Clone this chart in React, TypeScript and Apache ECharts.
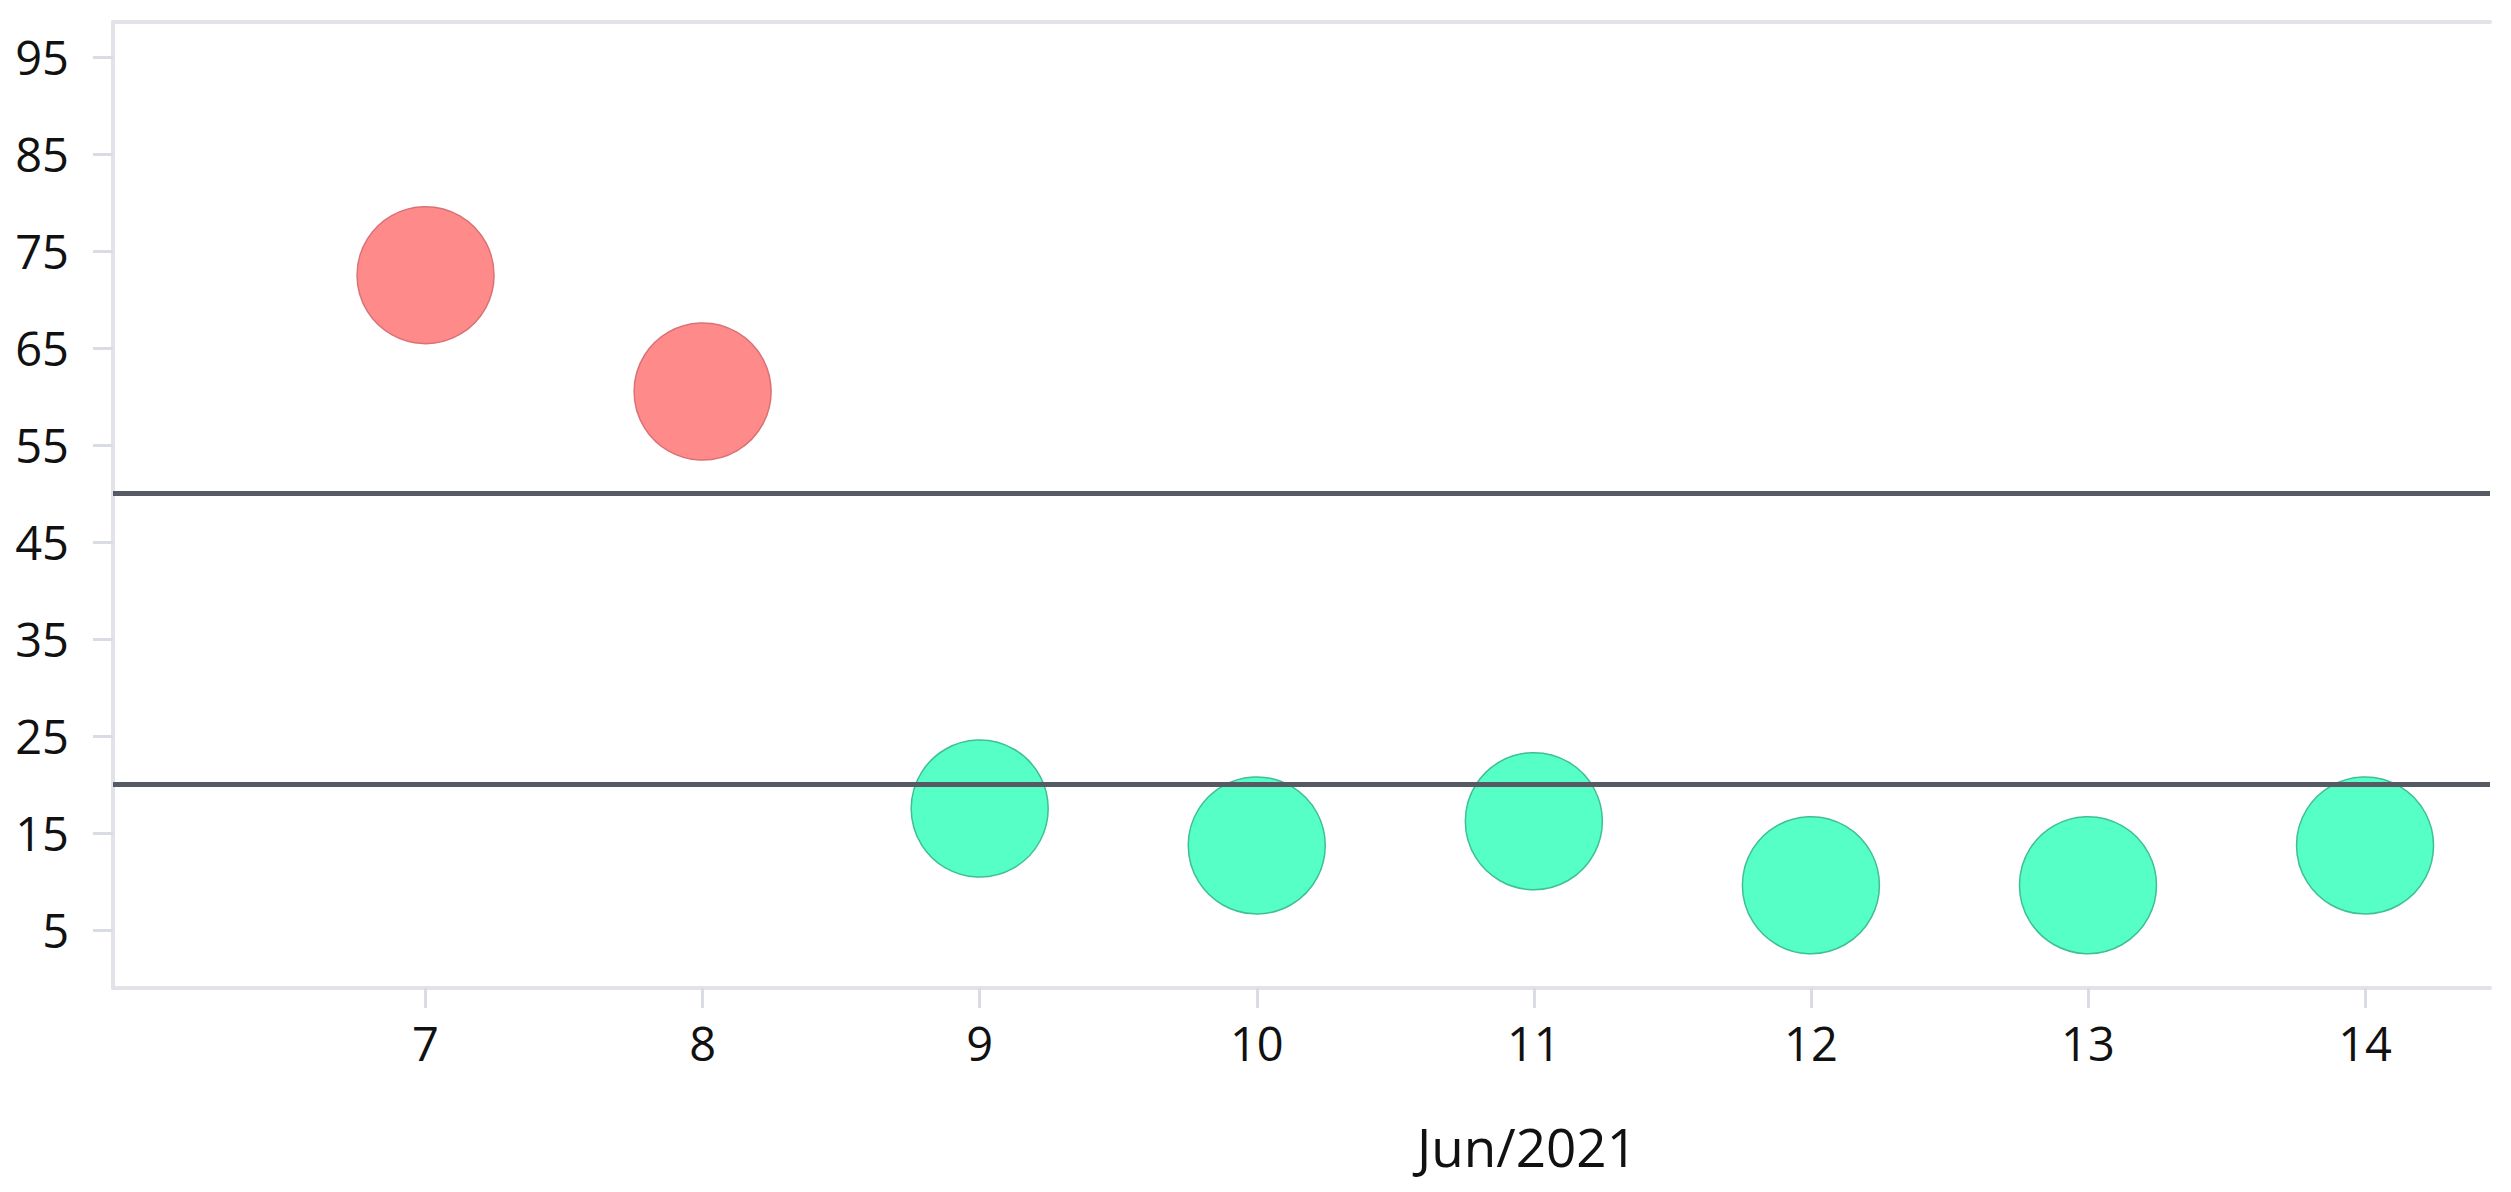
import React, { useEffect, useRef } from "react";
import * as echarts from "echarts";

const days = [7, 8, 9, 10, 11, 12, 13, 14];
const values = [72.5, 60.5, 17.5, 13.7, 16.2, 9.6, 9.6, 13.7];
const thresholds = [50, 20];
const yTicks = [5, 15, 25, 35, 45, 55, 65, 75, 85, 95];
const xTicks = [7, 8, 9, 10, 11, 12, 13, 14];
const xName = "Jun/2021";

const FONT = "'Open Sans', 'Noto Sans', sans-serif";

export default function App() {
  const ref = useRef<HTMLDivElement>(null);
  useEffect(() => {
    if (!ref.current) return;
    const chart = echarts.init(ref.current, undefined, { renderer: "svg" });
    const pts = days.map((d, i) => [d, values[i]]);
    const high = pts.filter((p) => p[1] > thresholds[0]);
    const low = pts.filter((p) => p[1] <= thresholds[0]);
    const axisColor = "#e1e3e9";
    const tickColor = "#d9dce4";
    chart.setOption({
      animation: false,
      backgroundColor: "#ffffff",
      grid: { left: 113, right: 21, top: 22, bottom: 204 },
      xAxis: [
        {
          type: "value",
          min: 5.872,
          max: 14.451,
          position: "bottom",
          axisLine: { show: true, onZero: false, lineStyle: { color: axisColor, width: 4 } },
          axisTick: {
            show: true,
            customValues: xTicks,
            length: 20,
            lineStyle: { color: tickColor, width: 3 },
          },
          axisLabel: {
            customValues: xTicks,
            fontSize: 47,
            color: "#111111",
            fontFamily: FONT,
            margin: 31,
          },
          splitLine: { show: false },
        },
        {
          type: "value",
          min: 5.872,
          max: 14.451,
          position: "top",
          axisLine: { show: true, onZero: false, lineStyle: { color: axisColor, width: 4 } },
          axisTick: { show: false },
          axisLabel: { show: false },
          splitLine: { show: false },
        },
      ],
      yAxis: {
        type: "value",
        min: -1,
        max: 98.6,
        axisLine: { show: true, onZero: false, lineStyle: { color: axisColor, width: 4 } },
        axisTick: {
          show: true,
          customValues: yTicks,
          length: 20,
          lineStyle: { color: tickColor, width: 3 },
        },
        axisLabel: {
          customValues: yTicks,
          fontSize: 47,
          color: "#111111",
          fontFamily: FONT,
          margin: 44,
        },
        splitLine: { show: false },
      },
      graphic: [
        {
          type: "text",
          style: {
            x: 1527,
            y: 1146,
            text: xName,
            fontSize: 53,
            fontFamily: FONT,
            fill: "#111111",
            textAlign: "center",
            textVerticalAlign: "middle",
          },
        },
      ],
      series: [
        {
          type: "scatter",
          data: high,
          symbolSize: 137,
          z: 2,
          itemStyle: { color: "#ff8a8a", borderColor: "#d97276", borderWidth: 1.5, opacity: 1 },
        },
        {
          type: "scatter",
          data: low,
          symbolSize: 137,
          z: 2,
          itemStyle: { color: "#55ffc6", borderColor: "#3fbf95", borderWidth: 1.5, opacity: 1 },
        },
        {
          type: "line",
          data: [],
          z: 5,
          markLine: {
            silent: true,
            symbol: "none",
            label: { show: false },
            lineStyle: { color: "#555a63", width: 5, type: "solid" },
            data: thresholds.map((t) => ({ yAxis: t })),
          },
        },
      ],
    });
    return () => chart.dispose();
  }, []);
  return (
    <div
      ref={ref}
      style={{ position: "absolute", left: 0, top: 0, width: 2511, height: 1192 }}
    />
  );
}
